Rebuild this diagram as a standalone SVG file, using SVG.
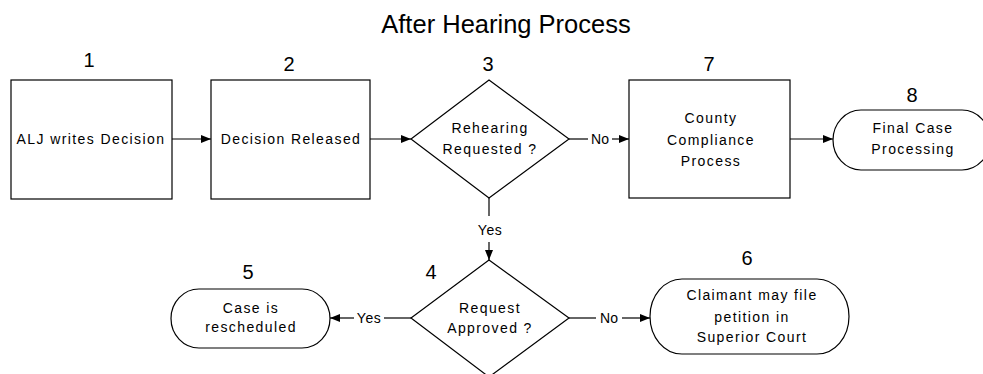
<svg xmlns="http://www.w3.org/2000/svg" width="983" height="374" viewBox="0 0 983 374">
<defs>
<marker id="arr" markerUnits="userSpaceOnUse" markerWidth="10" markerHeight="10" refX="10" refY="4" orient="auto">
<path d="M0,0 L10,4 L0,8 z" fill="#000"/>
</marker>
<style>
.shape{fill:#fff;stroke:#000;stroke-width:1.2}
.t{font-family:"Liberation Sans",Arial,sans-serif;font-size:14px;letter-spacing:1.4px;text-anchor:middle;fill:#000}
.num{font-family:"Liberation Sans",Arial,sans-serif;font-size:20px;text-anchor:middle;fill:#000}
.title{font-family:"Liberation Sans",Arial,sans-serif;font-size:25.5px;text-anchor:middle;fill:#000}
.c{fill:none;stroke:#000;stroke-width:1.2}
</style>
</defs>
<rect width="983" height="374" fill="#fff"/>
<text class="title" x="506" y="33">After Hearing Process</text>

<g id="connectors">
<path class="c" d="M172 139 H211" marker-end="url(#arr)"/>
<path class="c" d="M370 139 H411" marker-end="url(#arr)"/>
<path class="c" d="M569 139 H588"/>
<text class="t" x="600" y="144" style="letter-spacing:0">No</text>
<path class="c" d="M612 139 H629" marker-end="url(#arr)"/>
<path class="c" d="M790 139 H833" marker-end="url(#arr)"/>
<path class="c" d="M489 198 V216"/>
<text class="t" x="490" y="235" style="letter-spacing:0.5px">Yes</text>
<path class="c" d="M489 242 V260" marker-end="url(#arr)"/>
<path class="c" d="M411 318 H384"/>
<text class="t" x="369" y="323" style="letter-spacing:0.5px">Yes</text>
<path class="c" d="M354 318 H330" marker-end="url(#arr)"/>
<path class="c" d="M569 318 H596"/>
<text class="t" x="609" y="323" style="letter-spacing:0">No</text>
<path class="c" d="M622 318 H650" marker-end="url(#arr)"/>
</g>

<g id="node1">
<text class="num" x="89" y="67">1</text>
<rect class="shape" x="11" y="80" width="161" height="119"/>
<text class="t" x="91" y="144">ALJ writes Decision</text>
</g>
<g id="node2">
<text class="num" x="289" y="71">2</text>
<rect class="shape" x="211" y="80" width="159" height="119"/>
<text class="t" x="291" y="144">Decision Released</text>
</g>
<g id="node3">
<text class="num" x="488" y="71">3</text>
<polygon class="shape" points="489,80 569,139 489,198 411,139"/>
<text class="t" x="490" y="133">Rehearing</text>
<text class="t" x="490" y="154">Requested ?</text>
</g>
<g id="node7">
<text class="num" x="709" y="71">7</text>
<rect class="shape" x="629" y="80" width="161" height="118"/>
<text class="t" x="711" y="123">County</text>
<text class="t" x="711" y="145">Compliance</text>
<text class="t" x="711" y="166">Process</text>
</g>
<g id="node8">
<text class="num" x="912" y="102">8</text>
<rect class="shape" x="833" y="110" width="157" height="60" rx="28" ry="30"/>
<text class="t" x="913" y="133">Final Case</text>
<text class="t" x="913" y="154">Processing</text>
</g>
<g id="node4">
<text class="num" x="431" y="279">4</text>
<polygon class="shape" points="489,260 569,318 489,377 411,318"/>
<text class="t" x="490" y="313">Request</text>
<text class="t" x="490" y="333">Approved ?</text>
</g>
<g id="node5">
<text class="num" x="248" y="279">5</text>
<rect class="shape" x="171" y="289" width="159" height="59" rx="28" ry="29.5"/>
<text class="t" x="251" y="313">Case is</text>
<text class="t" x="251" y="332">rescheduled</text>
</g>
<g id="node6">
<text class="num" x="747" y="265">6</text>
<rect class="shape" x="650" y="279" width="199" height="75" rx="32" ry="37.5"/>
<text class="t" x="752" y="300">Claimant may file</text>
<text class="t" x="752" y="322">petition in</text>
<text class="t" x="752" y="342">Superior Court</text>
</g>
</svg>
